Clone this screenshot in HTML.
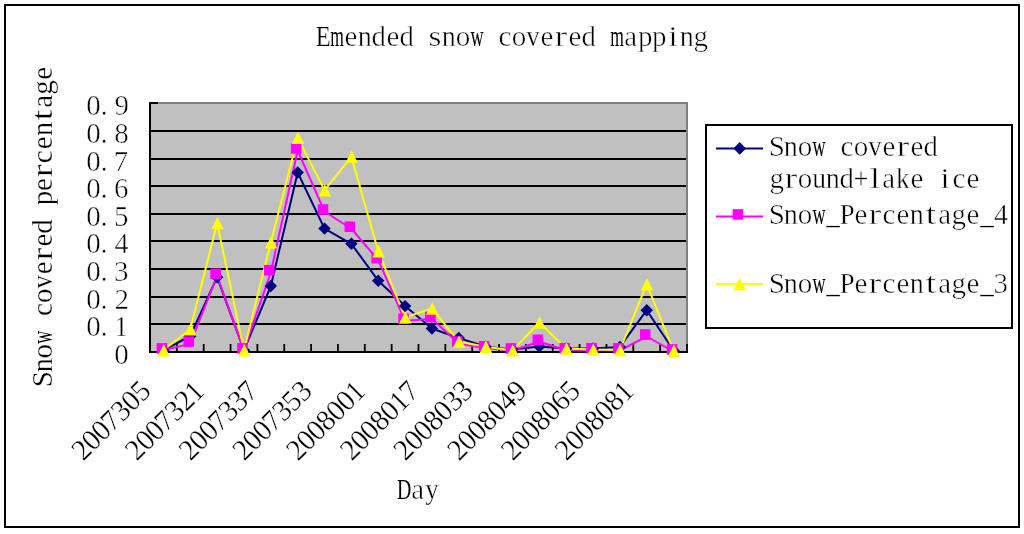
<!DOCTYPE html>
<html><head><meta charset="utf-8"><title>Emended snow covered mapping</title>
<style>html,body{margin:0;padding:0;background:#fff;width:1024px;height:534px;overflow:hidden}svg{display:block;will-change:transform}text{font-family:"Liberation Serif",serif}</style>
</head><body>
<svg width="1024" height="534" viewBox="0 0 1024 534">
<rect x="0" y="0" width="1024" height="534" fill="#fff"/>
<rect x="5" y="5" width="1014" height="522" fill="none" stroke="#000" stroke-width="2"/>
<rect x="150" y="103" width="537" height="249" fill="#c0c0c0"/>
<path d="M150 103 H687 V352" fill="none" stroke="#808080" stroke-width="2"/>
<line x1="150" y1="324" x2="686" y2="324" stroke="#000" stroke-width="2"/>
<line x1="150" y1="297" x2="686" y2="297" stroke="#000" stroke-width="2"/>
<line x1="150" y1="269" x2="686" y2="269" stroke="#000" stroke-width="2"/>
<line x1="150" y1="241" x2="686" y2="241" stroke="#000" stroke-width="2"/>
<line x1="150" y1="214" x2="686" y2="214" stroke="#000" stroke-width="2"/>
<line x1="150" y1="186" x2="686" y2="186" stroke="#000" stroke-width="2"/>
<line x1="150" y1="159" x2="686" y2="159" stroke="#000" stroke-width="2"/>
<line x1="150" y1="131" x2="686" y2="131" stroke="#000" stroke-width="2"/>
<line x1="150" y1="102" x2="150" y2="353" stroke="#000" stroke-width="2"/>
<line x1="150" y1="352" x2="158" y2="352" stroke="#000" stroke-width="2"/>
<line x1="150" y1="324" x2="158" y2="324" stroke="#000" stroke-width="2"/>
<line x1="150" y1="297" x2="158" y2="297" stroke="#000" stroke-width="2"/>
<line x1="150" y1="269" x2="158" y2="269" stroke="#000" stroke-width="2"/>
<line x1="150" y1="241" x2="158" y2="241" stroke="#000" stroke-width="2"/>
<line x1="150" y1="214" x2="158" y2="214" stroke="#000" stroke-width="2"/>
<line x1="150" y1="186" x2="158" y2="186" stroke="#000" stroke-width="2"/>
<line x1="150" y1="159" x2="158" y2="159" stroke="#000" stroke-width="2"/>
<line x1="150" y1="131" x2="158" y2="131" stroke="#000" stroke-width="2"/>
<line x1="150" y1="103" x2="158" y2="103" stroke="#000" stroke-width="2"/>
<line x1="149" y1="352" x2="688" y2="352" stroke="#000" stroke-width="2"/>
<line x1="176.85" y1="344" x2="176.85" y2="352" stroke="#000" stroke-width="1.8"/>
<line x1="203.70" y1="344" x2="203.70" y2="352" stroke="#000" stroke-width="1.8"/>
<line x1="230.55" y1="344" x2="230.55" y2="352" stroke="#000" stroke-width="1.8"/>
<line x1="257.40" y1="344" x2="257.40" y2="352" stroke="#000" stroke-width="1.8"/>
<line x1="284.25" y1="344" x2="284.25" y2="352" stroke="#000" stroke-width="1.8"/>
<line x1="311.10" y1="344" x2="311.10" y2="352" stroke="#000" stroke-width="1.8"/>
<line x1="337.95" y1="344" x2="337.95" y2="352" stroke="#000" stroke-width="1.8"/>
<line x1="364.80" y1="344" x2="364.80" y2="352" stroke="#000" stroke-width="1.8"/>
<line x1="391.65" y1="344" x2="391.65" y2="352" stroke="#000" stroke-width="1.8"/>
<line x1="418.50" y1="344" x2="418.50" y2="352" stroke="#000" stroke-width="1.8"/>
<line x1="445.35" y1="344" x2="445.35" y2="352" stroke="#000" stroke-width="1.8"/>
<line x1="472.20" y1="344" x2="472.20" y2="352" stroke="#000" stroke-width="1.8"/>
<line x1="499.05" y1="344" x2="499.05" y2="352" stroke="#000" stroke-width="1.8"/>
<line x1="525.90" y1="344" x2="525.90" y2="352" stroke="#000" stroke-width="1.8"/>
<line x1="552.75" y1="344" x2="552.75" y2="352" stroke="#000" stroke-width="1.8"/>
<line x1="579.60" y1="344" x2="579.60" y2="352" stroke="#000" stroke-width="1.8"/>
<line x1="606.45" y1="344" x2="606.45" y2="352" stroke="#000" stroke-width="1.8"/>
<line x1="633.30" y1="344" x2="633.30" y2="352" stroke="#000" stroke-width="1.8"/>
<line x1="660.15" y1="344" x2="660.15" y2="352" stroke="#000" stroke-width="1.8"/>
<line x1="687.00" y1="344" x2="687.00" y2="352" stroke="#000" stroke-width="1.8"/>
<polyline points="163.43,350.30 190.28,336.00 217.12,277.20 243.98,350.30 270.82,286.00 297.68,172.50 324.52,228.60 351.38,243.80 378.23,280.70 405.08,306.10 431.93,328.50 458.78,338.00 485.62,346.80 512.48,349.50 539.33,346.50 566.17,348.50 593.03,348.50 619.88,346.90 646.73,310.20 673.58,350.50" fill="none" stroke="#000080" stroke-width="2" stroke-linejoin="round"/>
<polyline points="163.43,350.40 190.28,343.60 217.12,275.80 243.98,350.40 270.82,272.25 297.68,150.50 324.52,211.50 351.38,228.75 378.23,260.10 405.08,320.80 431.93,319.00 458.78,343.60 485.62,348.30 512.48,350.50 539.33,341.80 566.17,350.30 593.03,350.30 619.88,350.30 646.73,336.50 673.58,351.50" fill="none" stroke="#ff00ff" stroke-width="2" stroke-linejoin="round"/>
<polyline points="163.43,350.20 190.28,329.30 217.12,223.10 243.98,350.25 270.82,242.40 297.68,137.90 324.52,190.25 351.38,156.80 378.23,251.20 405.08,317.40 431.93,308.50 458.78,341.60 485.62,346.80 512.48,350.40 539.33,322.50 566.17,348.60 593.03,349.60 619.88,350.10 646.73,284.20 673.58,350.80" fill="none" stroke="#ffff00" stroke-width="2" stroke-linejoin="round"/>
<path d="M163.43 344.10 L169.62 350.30 L163.43 356.50 L157.23 350.30Z" fill="#000080"/>
<path d="M190.28 329.80 L196.47 336.00 L190.28 342.20 L184.08 336.00Z" fill="#000080"/>
<path d="M217.12 271.00 L223.32 277.20 L217.12 283.40 L210.93 277.20Z" fill="#000080"/>
<path d="M243.98 344.10 L250.18 350.30 L243.98 356.50 L237.78 350.30Z" fill="#000080"/>
<path d="M270.82 279.80 L277.02 286.00 L270.82 292.20 L264.62 286.00Z" fill="#000080"/>
<path d="M297.68 166.30 L303.88 172.50 L297.68 178.70 L291.48 172.50Z" fill="#000080"/>
<path d="M324.52 222.40 L330.72 228.60 L324.52 234.80 L318.32 228.60Z" fill="#000080"/>
<path d="M351.38 237.60 L357.57 243.80 L351.38 250.00 L345.18 243.80Z" fill="#000080"/>
<path d="M378.23 274.50 L384.43 280.70 L378.23 286.90 L372.03 280.70Z" fill="#000080"/>
<path d="M405.08 299.90 L411.28 306.10 L405.08 312.30 L398.88 306.10Z" fill="#000080"/>
<path d="M431.93 322.30 L438.12 328.50 L431.93 334.70 L425.73 328.50Z" fill="#000080"/>
<path d="M458.78 331.80 L464.98 338.00 L458.78 344.20 L452.58 338.00Z" fill="#000080"/>
<path d="M485.62 340.60 L491.82 346.80 L485.62 353.00 L479.43 346.80Z" fill="#000080"/>
<path d="M512.48 343.30 L518.68 349.50 L512.48 355.70 L506.28 349.50Z" fill="#000080"/>
<path d="M539.33 340.30 L545.53 346.50 L539.33 352.70 L533.12 346.50Z" fill="#000080"/>
<path d="M566.17 342.30 L572.38 348.50 L566.17 354.70 L559.97 348.50Z" fill="#000080"/>
<path d="M593.03 342.30 L599.23 348.50 L593.03 354.70 L586.83 348.50Z" fill="#000080"/>
<path d="M619.88 340.70 L626.08 346.90 L619.88 353.10 L613.67 346.90Z" fill="#000080"/>
<path d="M646.73 304.00 L652.93 310.20 L646.73 316.40 L640.52 310.20Z" fill="#000080"/>
<path d="M673.58 344.30 L679.78 350.50 L673.58 356.70 L667.38 350.50Z" fill="#000080"/>
<rect x="156.62" y="343.10" width="10.6" height="10.6" fill="#ff00ff"/>
<rect x="183.47" y="336.30" width="10.6" height="10.6" fill="#ff00ff"/>
<rect x="210.32" y="268.50" width="10.6" height="10.6" fill="#ff00ff"/>
<rect x="237.18" y="343.10" width="10.6" height="10.6" fill="#ff00ff"/>
<rect x="264.02" y="264.95" width="10.6" height="10.6" fill="#ff00ff"/>
<rect x="290.88" y="143.20" width="10.6" height="10.6" fill="#ff00ff"/>
<rect x="317.72" y="204.20" width="10.6" height="10.6" fill="#ff00ff"/>
<rect x="344.57" y="221.45" width="10.6" height="10.6" fill="#ff00ff"/>
<rect x="371.43" y="252.80" width="10.6" height="10.6" fill="#ff00ff"/>
<rect x="398.28" y="313.50" width="10.6" height="10.6" fill="#ff00ff"/>
<rect x="425.12" y="311.70" width="10.6" height="10.6" fill="#ff00ff"/>
<rect x="451.98" y="336.30" width="10.6" height="10.6" fill="#ff00ff"/>
<rect x="478.82" y="341.00" width="10.6" height="10.6" fill="#ff00ff"/>
<rect x="505.68" y="343.20" width="10.6" height="10.6" fill="#ff00ff"/>
<rect x="532.53" y="334.50" width="10.6" height="10.6" fill="#ff00ff"/>
<rect x="559.38" y="343.00" width="10.6" height="10.6" fill="#ff00ff"/>
<rect x="586.23" y="343.00" width="10.6" height="10.6" fill="#ff00ff"/>
<rect x="613.08" y="343.00" width="10.6" height="10.6" fill="#ff00ff"/>
<rect x="639.93" y="329.20" width="10.6" height="10.6" fill="#ff00ff"/>
<rect x="666.78" y="344.20" width="10.6" height="10.6" fill="#ff00ff"/>
<path d="M163.73 344.00 L169.93 356.40 L157.53 356.40Z" fill="#ffff00"/>
<path d="M190.58 323.10 L196.78 335.50 L184.38 335.50Z" fill="#ffff00"/>
<path d="M217.43 216.90 L223.62 229.30 L211.23 229.30Z" fill="#ffff00"/>
<path d="M244.28 344.05 L250.48 356.45 L238.08 356.45Z" fill="#ffff00"/>
<path d="M271.12 236.20 L277.32 248.60 L264.93 248.60Z" fill="#ffff00"/>
<path d="M297.98 131.70 L304.18 144.10 L291.78 144.10Z" fill="#ffff00"/>
<path d="M324.82 184.05 L331.02 196.45 L318.62 196.45Z" fill="#ffff00"/>
<path d="M351.68 150.60 L357.88 163.00 L345.48 163.00Z" fill="#ffff00"/>
<path d="M378.53 245.00 L384.73 257.40 L372.33 257.40Z" fill="#ffff00"/>
<path d="M405.38 311.20 L411.58 323.60 L399.18 323.60Z" fill="#ffff00"/>
<path d="M432.23 302.30 L438.43 314.70 L426.03 314.70Z" fill="#ffff00"/>
<path d="M459.08 335.40 L465.28 347.80 L452.88 347.80Z" fill="#ffff00"/>
<path d="M485.93 340.60 L492.12 353.00 L479.73 353.00Z" fill="#ffff00"/>
<path d="M512.77 344.20 L518.98 356.60 L506.57 356.60Z" fill="#ffff00"/>
<path d="M539.62 316.30 L545.83 328.70 L533.42 328.70Z" fill="#ffff00"/>
<path d="M566.47 342.40 L572.67 354.80 L560.27 354.80Z" fill="#ffff00"/>
<path d="M593.33 343.40 L599.53 355.80 L587.12 355.80Z" fill="#ffff00"/>
<path d="M620.17 343.90 L626.38 356.30 L613.97 356.30Z" fill="#ffff00"/>
<path d="M647.02 278.00 L653.23 290.40 L640.82 290.40Z" fill="#ffff00"/>
<path d="M673.88 344.60 L680.08 357.00 L667.67 357.00Z" fill="#ffff00"/>
<rect x="706" y="125" width="306" height="203" fill="#fff" stroke="#000" stroke-width="2"/>
<line x1="716" y1="148.5" x2="763" y2="148.5" stroke="#000080" stroke-width="2"/>
<path d="M739.70 142.10 L746.00 148.40 L739.70 154.70 L733.40 148.40Z" fill="#000080"/>
<line x1="716" y1="216.4" x2="763" y2="216.4" stroke="#ff00ff" stroke-width="2"/>
<rect x="732.65" y="209.15" width="10.5" height="10.5" fill="#ff00ff"/>
<line x1="716" y1="284" x2="763" y2="284" stroke="#ffff00" stroke-width="2"/>
<path d="M739.50 277.95 L745.75 290.25 L733.25 290.25Z" fill="#ffff00"/>
<g font-family="Liberation Serif" font-size="29.0" fill="#000" stroke="#fff" stroke-width="0.5">
<text transform="translate(315.80,46.20) scale(0.842,1.0)" stroke-width="0.24">E</text>
<text transform="translate(330.13,46.20) scale(0.605,1.0)" stroke-width="0.00">m</text>
<text x="344.50" y="46.20">e</text>
<text transform="translate(357.85,46.20) scale(0.970,1.0)" stroke-width="0.45">n</text>
<text transform="translate(371.46,46.20) scale(0.993,1.0)" stroke-width="0.49">d</text>
<text x="386.50" y="46.20">e</text>
<text transform="translate(399.46,46.20) scale(0.993,1.0)" stroke-width="0.49">d</text>
<text transform="translate(428.50,46.20) scale(1.138,1.0)">s</text>
<text transform="translate(441.85,46.20) scale(0.970,1.0)" stroke-width="0.45">n</text>
<text x="455.75" y="46.20">o</text>
<text transform="translate(470.48,46.20) scale(0.625,1.0)" stroke-width="0.00">w</text>
<text x="498.46" y="46.20">c</text>
<text x="511.75" y="46.20">o</text>
<text transform="translate(526.50,46.20) scale(0.897,1.0)" stroke-width="0.33">v</text>
<text x="540.50" y="46.20">e</text>
<text transform="translate(554.38,46.20) scale(1.326,1.0)">r</text>
<text x="568.50" y="46.20">e</text>
<text transform="translate(581.46,46.20) scale(0.993,1.0)" stroke-width="0.49">d</text>
<text transform="translate(610.13,46.20) scale(0.605,1.0)" stroke-width="0.00">m</text>
<text x="624.25" y="46.20">a</text>
<text x="638.08" y="46.20">p</text>
<text x="652.08" y="46.20">p</text>
<text transform="translate(668.18,46.20) scale(1.189,1.0)">i</text>
<text transform="translate(679.85,46.20) scale(0.970,1.0)" stroke-width="0.45">n</text>
<text x="693.40" y="46.20">g</text>
<text x="768.86" y="155.80">S</text>
<text transform="translate(783.85,155.80) scale(0.970,1.0)" stroke-width="0.45">n</text>
<text x="797.75" y="155.80">o</text>
<text transform="translate(812.48,155.80) scale(0.625,1.0)" stroke-width="0.00">w</text>
<text x="840.46" y="155.80">c</text>
<text x="853.75" y="155.80">o</text>
<text transform="translate(868.50,155.80) scale(0.897,1.0)" stroke-width="0.33">v</text>
<text x="882.50" y="155.80">e</text>
<text transform="translate(896.38,155.80) scale(1.326,1.0)">r</text>
<text x="910.50" y="155.80">e</text>
<text transform="translate(923.46,155.80) scale(0.993,1.0)" stroke-width="0.49">d</text>
<text x="769.40" y="187.80">g</text>
<text transform="translate(784.38,187.80) scale(1.326,1.0)">r</text>
<text x="797.75" y="187.80">o</text>
<text transform="translate(812.14,187.80) scale(0.954,1.0)" stroke-width="0.42">u</text>
<text transform="translate(825.85,187.80) scale(0.970,1.0)" stroke-width="0.45">n</text>
<text transform="translate(839.46,187.80) scale(0.993,1.0)" stroke-width="0.49">d</text>
<text transform="translate(853.72,187.80) scale(0.889,1.0)" stroke-width="0.32">+</text>
<text transform="translate(869.27,187.80) scale(1.421,1.0)">l</text>
<text x="882.25" y="187.80">a</text>
<text transform="translate(895.99,187.80) scale(0.932,1.0)" stroke-width="0.39">k</text>
<text x="910.50" y="187.80">e</text>
<text transform="translate(940.18,187.80) scale(1.189,1.0)">i</text>
<text x="952.46" y="187.80">c</text>
<text x="966.50" y="187.80">e</text>
<text x="768.86" y="224.10">S</text>
<text transform="translate(783.85,224.10) scale(0.970,1.0)" stroke-width="0.45">n</text>
<text x="797.75" y="224.10">o</text>
<text transform="translate(812.48,224.10) scale(0.625,1.0)" stroke-width="0.00">w</text>
<text transform="translate(826.21,224.10) scale(0.936,1.0)" stroke-width="0.39">_</text>
<text transform="translate(839.73,224.10) scale(0.920,1.0)" stroke-width="0.37">P</text>
<text x="854.50" y="224.10">e</text>
<text transform="translate(868.38,224.10) scale(1.326,1.0)">r</text>
<text x="882.46" y="224.10">c</text>
<text x="896.50" y="224.10">e</text>
<text transform="translate(909.85,224.10) scale(0.970,1.0)" stroke-width="0.45">n</text>
<text transform="translate(925.52,224.10) scale(1.341,1.0)">t</text>
<text x="938.25" y="224.10">a</text>
<text x="951.40" y="224.10">g</text>
<text x="966.50" y="224.10">e</text>
<text transform="translate(980.21,224.10) scale(0.936,1.0)" stroke-width="0.39">_</text>
<text transform="translate(993.95,224.10) scale(0.964,1.02)" stroke-width="0.44">4</text>
<text x="768.86" y="292.50">S</text>
<text transform="translate(783.85,292.50) scale(0.970,1.0)" stroke-width="0.45">n</text>
<text x="797.75" y="292.50">o</text>
<text transform="translate(812.48,292.50) scale(0.625,1.0)" stroke-width="0.00">w</text>
<text transform="translate(826.21,292.50) scale(0.936,1.0)" stroke-width="0.39">_</text>
<text transform="translate(839.73,292.50) scale(0.920,1.0)" stroke-width="0.37">P</text>
<text x="854.50" y="292.50">e</text>
<text transform="translate(868.38,292.50) scale(1.326,1.0)">r</text>
<text x="882.46" y="292.50">c</text>
<text x="896.50" y="292.50">e</text>
<text transform="translate(909.85,292.50) scale(0.970,1.0)" stroke-width="0.45">n</text>
<text transform="translate(925.52,292.50) scale(1.341,1.0)">t</text>
<text x="938.25" y="292.50">a</text>
<text x="951.40" y="292.50">g</text>
<text x="966.50" y="292.50">e</text>
<text transform="translate(980.21,292.50) scale(0.936,1.0)" stroke-width="0.39">_</text>
<text transform="translate(993.62,292.50) scale(1.000,1.02)">3</text>
<text transform="translate(396.93,499.00) scale(0.686,1.0)" stroke-width="0.00">D</text>
<text x="411.25" y="499.00">a</text>
<text transform="translate(425.17,499.00) scale(0.926,1.0)" stroke-width="0.38">y</text>
<text transform="translate(114.25,363.50) scale(1.000,1.02)">0</text>
<text transform="translate(86.25,335.50) scale(1.000,1.02)">0</text>
<text x="100.50" y="335.50">.</text>
<text transform="translate(114.75,335.50) scale(0.882,1.02)" stroke-width="0.30">1</text>
<text transform="translate(86.25,308.50) scale(1.000,1.02)">0</text>
<text x="100.50" y="308.50">.</text>
<text transform="translate(114.41,308.50) scale(1.000,1.02)">2</text>
<text transform="translate(86.25,280.50) scale(1.000,1.02)">0</text>
<text x="100.50" y="280.50">.</text>
<text transform="translate(114.12,280.50) scale(1.000,1.02)">3</text>
<text transform="translate(86.25,252.50) scale(1.000,1.02)">0</text>
<text x="100.50" y="252.50">.</text>
<text transform="translate(114.45,252.50) scale(0.964,1.02)" stroke-width="0.44">4</text>
<text transform="translate(86.25,225.50) scale(1.000,1.02)">0</text>
<text x="100.50" y="225.50">.</text>
<text transform="translate(113.97,225.50) scale(1.000,1.02)">5</text>
<text transform="translate(86.25,197.50) scale(1.000,1.02)">0</text>
<text x="100.50" y="197.50">.</text>
<text transform="translate(114.06,197.50) scale(1.000,1.02)">6</text>
<text transform="translate(86.25,170.50) scale(1.000,1.02)">0</text>
<text x="100.50" y="170.50">.</text>
<text transform="translate(113.71,170.50) scale(1.000,1.02)">7</text>
<text transform="translate(86.25,142.50) scale(1.000,1.02)">0</text>
<text x="100.50" y="142.50">.</text>
<text transform="translate(114.25,142.50) scale(1.000,1.02)">8</text>
<text transform="translate(86.25,114.50) scale(1.000,1.02)">0</text>
<text x="100.50" y="114.50">.</text>
<text transform="translate(114.38,114.50) scale(1.000,1.02)">9</text>
<g transform="translate(51.6,386) rotate(-90)" stroke-width="0.3">
<text x="-1.19" y="0.00">S</text>
<text transform="translate(13.70,0.00) scale(0.970,1.0)" stroke-width="0.27">n</text>
<text x="27.50" y="0.00">o</text>
<text transform="translate(42.13,0.00) scale(0.625,1.0)" stroke-width="0.00">w</text>
<text x="69.91" y="0.00">c</text>
<text x="83.10" y="0.00">o</text>
<text transform="translate(97.75,0.00) scale(0.897,1.0)" stroke-width="0.20">v</text>
<text x="111.65" y="0.00">e</text>
<text transform="translate(125.43,0.00) scale(1.326,1.0)">r</text>
<text x="139.45" y="0.00">e</text>
<text transform="translate(152.31,0.00) scale(0.993,1.0)" stroke-width="0.29">d</text>
<text x="180.73" y="0.00">p</text>
<text x="195.05" y="0.00">e</text>
<text transform="translate(208.83,0.00) scale(1.326,1.0)">r</text>
<text x="222.81" y="0.00">c</text>
<text x="236.75" y="0.00">e</text>
<text transform="translate(250.00,0.00) scale(0.970,1.0)" stroke-width="0.27">n</text>
<text transform="translate(265.57,0.00) scale(1.341,1.0)">t</text>
<text x="278.20" y="0.00">a</text>
<text x="291.25" y="0.00">g</text>
<text x="306.25" y="0.00">e</text>
</g>
<g transform="translate(83.23,461.8) rotate(-45)" stroke-width="0.3">
<text transform="translate(-0.09,0.00) scale(1.000,1.02)">2</text>
<text transform="translate(13.75,0.00) scale(1.000,1.02)">0</text>
<text transform="translate(27.75,0.00) scale(1.000,1.02)">0</text>
<text transform="translate(41.21,0.00) scale(1.000,1.02)">7</text>
<text transform="translate(55.62,0.00) scale(1.000,1.02)">3</text>
<text transform="translate(69.75,0.00) scale(1.000,1.02)">0</text>
<text transform="translate(83.47,0.00) scale(1.000,1.02)">5</text>
</g>
<g transform="translate(136.93,461.8) rotate(-45)" stroke-width="0.3">
<text transform="translate(-0.09,0.00) scale(1.000,1.02)">2</text>
<text transform="translate(13.75,0.00) scale(1.000,1.02)">0</text>
<text transform="translate(27.75,0.00) scale(1.000,1.02)">0</text>
<text transform="translate(41.21,0.00) scale(1.000,1.02)">7</text>
<text transform="translate(55.62,0.00) scale(1.000,1.02)">3</text>
<text transform="translate(69.91,0.00) scale(1.000,1.02)">2</text>
<text transform="translate(84.25,0.00) scale(0.882,1.02)" stroke-width="0.18">1</text>
</g>
<g transform="translate(190.62,461.8) rotate(-45)" stroke-width="0.3">
<text transform="translate(-0.09,0.00) scale(1.000,1.02)">2</text>
<text transform="translate(13.75,0.00) scale(1.000,1.02)">0</text>
<text transform="translate(27.75,0.00) scale(1.000,1.02)">0</text>
<text transform="translate(41.21,0.00) scale(1.000,1.02)">7</text>
<text transform="translate(55.62,0.00) scale(1.000,1.02)">3</text>
<text transform="translate(69.62,0.00) scale(1.000,1.02)">3</text>
<text transform="translate(83.21,0.00) scale(1.000,1.02)">7</text>
</g>
<g transform="translate(244.32,461.8) rotate(-45)" stroke-width="0.3">
<text transform="translate(-0.09,0.00) scale(1.000,1.02)">2</text>
<text transform="translate(13.75,0.00) scale(1.000,1.02)">0</text>
<text transform="translate(27.75,0.00) scale(1.000,1.02)">0</text>
<text transform="translate(41.21,0.00) scale(1.000,1.02)">7</text>
<text transform="translate(55.62,0.00) scale(1.000,1.02)">3</text>
<text transform="translate(69.47,0.00) scale(1.000,1.02)">5</text>
<text transform="translate(83.62,0.00) scale(1.000,1.02)">3</text>
</g>
<g transform="translate(298.03,461.8) rotate(-45)" stroke-width="0.3">
<text transform="translate(-0.09,0.00) scale(1.000,1.02)">2</text>
<text transform="translate(13.75,0.00) scale(1.000,1.02)">0</text>
<text transform="translate(27.75,0.00) scale(1.000,1.02)">0</text>
<text transform="translate(41.75,0.00) scale(1.000,1.02)">8</text>
<text transform="translate(55.75,0.00) scale(1.000,1.02)">0</text>
<text transform="translate(69.75,0.00) scale(1.000,1.02)">0</text>
<text transform="translate(84.25,0.00) scale(0.882,1.02)" stroke-width="0.18">1</text>
</g>
<g transform="translate(351.73,461.8) rotate(-45)" stroke-width="0.3">
<text transform="translate(-0.09,0.00) scale(1.000,1.02)">2</text>
<text transform="translate(13.75,0.00) scale(1.000,1.02)">0</text>
<text transform="translate(27.75,0.00) scale(1.000,1.02)">0</text>
<text transform="translate(41.75,0.00) scale(1.000,1.02)">8</text>
<text transform="translate(55.75,0.00) scale(1.000,1.02)">0</text>
<text transform="translate(70.25,0.00) scale(0.882,1.02)" stroke-width="0.18">1</text>
<text transform="translate(83.21,0.00) scale(1.000,1.02)">7</text>
</g>
<g transform="translate(405.43,461.8) rotate(-45)" stroke-width="0.3">
<text transform="translate(-0.09,0.00) scale(1.000,1.02)">2</text>
<text transform="translate(13.75,0.00) scale(1.000,1.02)">0</text>
<text transform="translate(27.75,0.00) scale(1.000,1.02)">0</text>
<text transform="translate(41.75,0.00) scale(1.000,1.02)">8</text>
<text transform="translate(55.75,0.00) scale(1.000,1.02)">0</text>
<text transform="translate(69.62,0.00) scale(1.000,1.02)">3</text>
<text transform="translate(83.62,0.00) scale(1.000,1.02)">3</text>
</g>
<g transform="translate(459.13,461.8) rotate(-45)" stroke-width="0.3">
<text transform="translate(-0.09,0.00) scale(1.000,1.02)">2</text>
<text transform="translate(13.75,0.00) scale(1.000,1.02)">0</text>
<text transform="translate(27.75,0.00) scale(1.000,1.02)">0</text>
<text transform="translate(41.75,0.00) scale(1.000,1.02)">8</text>
<text transform="translate(55.75,0.00) scale(1.000,1.02)">0</text>
<text transform="translate(69.95,0.00) scale(0.964,1.02)" stroke-width="0.26">4</text>
<text transform="translate(83.88,0.00) scale(1.000,1.02)">9</text>
</g>
<g transform="translate(512.83,461.8) rotate(-45)" stroke-width="0.3">
<text transform="translate(-0.09,0.00) scale(1.000,1.02)">2</text>
<text transform="translate(13.75,0.00) scale(1.000,1.02)">0</text>
<text transform="translate(27.75,0.00) scale(1.000,1.02)">0</text>
<text transform="translate(41.75,0.00) scale(1.000,1.02)">8</text>
<text transform="translate(55.75,0.00) scale(1.000,1.02)">0</text>
<text transform="translate(69.56,0.00) scale(1.000,1.02)">6</text>
<text transform="translate(83.47,0.00) scale(1.000,1.02)">5</text>
</g>
<g transform="translate(566.52,461.8) rotate(-45)" stroke-width="0.3">
<text transform="translate(-0.09,0.00) scale(1.000,1.02)">2</text>
<text transform="translate(13.75,0.00) scale(1.000,1.02)">0</text>
<text transform="translate(27.75,0.00) scale(1.000,1.02)">0</text>
<text transform="translate(41.75,0.00) scale(1.000,1.02)">8</text>
<text transform="translate(55.75,0.00) scale(1.000,1.02)">0</text>
<text transform="translate(69.75,0.00) scale(1.000,1.02)">8</text>
<text transform="translate(84.25,0.00) scale(0.882,1.02)" stroke-width="0.18">1</text>
</g>
</g>
</svg>
</body></html>
